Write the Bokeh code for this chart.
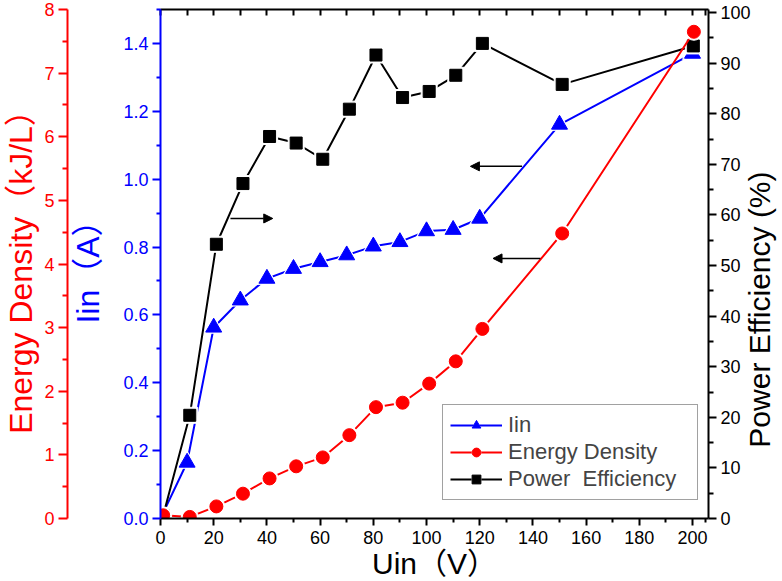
import math
from bokeh.plotting import figure
from bokeh.models import (Range1d, LinearAxis, FixedTicker, NumeralTickFormatter,
                          Legend, LegendItem, Arrow, NormalHead, ColumnDataSource)
from bokeh.embed import file_html
from bokeh.resources import INLINE

# ---- data ----
u_iin = [0, 10, 20, 30, 40, 50, 60, 70, 80, 90, 100, 110, 120, 150, 200]
iin = [0.0, 0.165, 0.563, 0.643, 0.707, 0.736, 0.756, 0.776, 0.802, 0.815, 0.847, 0.851, 0.884, 1.161, 1.370]
u_ed = [1, 11, 21, 31, 41, 51, 61, 71, 81, 91, 101, 111, 121, 151, 200.5]
energy_density = [0.05, 0.025, 0.19, 0.39, 0.63, 0.82, 0.96, 1.31, 1.75, 1.82, 2.12, 2.47, 2.98, 4.48, 7.65]
u_pe = [1, 11, 21, 31, 41, 51, 61, 71, 81, 91, 101, 111, 121, 151, 200.3]
power_eff = [0.6, 20.4, 54.2, 66.2, 75.5, 74.2, 71.0, 80.9, 91.6, 83.2, 84.4, 87.6, 93.9, 85.8, 93.4]

x_ticks = [0, 20, 40, 60, 80, 100, 120, 140, 160, 180, 200]
iin_ticks = [0.0, 0.2, 0.4, 0.6, 0.8, 1.0, 1.2, 1.4]
ed_ticks = [0, 1, 2, 3, 4, 5, 6, 7, 8]
pe_ticks = [0, 10, 20, 30, 40, 50, 60, 70, 80, 90, 100]

arrow_x_start = [26.3, 135.9, 142.8]
arrow_x_end = [42.2, 116.5, 125.0]
arrow_y = [59.3, 69.6, 51.4]

FONT = "Liberation Sans"
TFONT = "Liberation Sans, Noto Sans CJK SC"
BLUE, RED, BLACK = "#0000FF", "#FF0000", "#000000"
FW, FH = 548, 509

p = figure(frame_width=FW, frame_height=FH, x_range=Range1d(0, 206), y_range=Range1d(0, 1.5),
           output_backend="svg", toolbar_location=None,
           min_border_top=9, min_border_left=0, min_border_right=0, min_border_bottom=0)
p.extra_y_ranges = {"ed": Range1d(0, 8), "pe": Range1d(0, 100.6)}
p.outline_line_color = None
p.xgrid.visible = False
p.ygrid.visible = False
p.background_fill_color = "white"
p.border_fill_color = "white"


def minor(ticks):
    return [(a + b) / 2 for a, b in zip(ticks[:-1], ticks[1:])]


def style(ax, color, tick_out=8, minor_out=4):
    ax.axis_line_color = color
    ax.axis_line_width = 2
    ax.major_tick_line_color = color
    ax.minor_tick_line_color = color
    ax.major_tick_line_width = 2
    ax.minor_tick_line_width = 2
    ax.major_tick_out = tick_out
    ax.major_tick_in = 0
    ax.minor_tick_out = minor_out
    ax.minor_tick_in = 0
    ax.major_label_text_color = color
    ax.major_label_text_font = FONT
    ax.major_label_text_font_size = "18px"
    ax.axis_label_text_color = color
    ax.axis_label_text_font = TFONT
    ax.axis_label_text_font_style = "normal"


# bottom x axis
xa = p.xaxis[0]
xa.ticker = FixedTicker(ticks=x_ticks, minor_ticks=minor(x_ticks) + [205])
style(xa, BLACK, 7, 4)
xa.axis_label = "Uin（V）"
xa.axis_label_text_font_size = "30px"
xa.axis_label_standoff = 0
xa.major_label_standoff = 5

# top axis (ticks inward, no labels)
ta = LinearAxis(ticker=FixedTicker(ticks=x_ticks, minor_ticks=minor(x_ticks) + [205]))
style(ta, BLACK, 0, 0)
ta.major_tick_in = 6
ta.minor_tick_in = 6
ta.major_label_overrides = {t: "" for t in x_ticks}
ta.major_label_standoff = 0
ta.major_label_text_font_size = "1px"
p.add_layout(ta, "above")

# left inner blue axis (Iin)
ya = p.yaxis[0]
ya.ticker = FixedTicker(ticks=iin_ticks, minor_ticks=minor(iin_ticks) + [1.5])
ya.formatter = NumeralTickFormatter(format="0.0")
style(ya, BLUE, 8, 4)
ya.axis_label = "Iin（A）"
ya.axis_label_text_font_size = "32px"
ya.axis_label_standoff = 14
ya.major_label_standoff = 4

# left outer red axis (Energy density)
ra = LinearAxis(y_range_name="ed", ticker=FixedTicker(ticks=ed_ticks, minor_ticks=minor(ed_ticks)))
style(ra, RED, 9, 5)
ra.axis_label = "Energy Density（kJ/L）"
ra.axis_label_text_font_size = "32px"
ra.axis_label_standoff = 2
ra.major_label_standoff = 4
p.add_layout(ra, "left")

# right black axis (Power efficiency)
pa = LinearAxis(y_range_name="pe", ticker=FixedTicker(ticks=pe_ticks, minor_ticks=minor(pe_ticks)))
style(pa, BLACK, 8, 5)
pa.major_label_standoff = 4
p.add_layout(pa, "right")

# right axis title, reading bottom-to-top like the reference (anchored at its start)
title_anchor = 14
pt = LinearAxis(y_range_name="pe", ticker=FixedTicker(ticks=[title_anchor], minor_ticks=[]))
pt.axis_line_color = None
pt.major_tick_line_color = None
pt.minor_tick_line_color = None
pt.major_tick_out = 0
pt.major_tick_in = 0
pt.major_label_overrides = {title_anchor: "Power  Efficiency (%)"}
pt.major_label_orientation = math.pi / 2
pt.major_label_standoff = 6
pt.major_label_text_font = TFONT
pt.major_label_text_font_size = "30px"
pt.major_label_text_color = BLACK
p.add_layout(pt, "right")

# ---- series ----
bl = p.line(u_iin, iin, line_color=BLUE, line_width=2)
bh = p.scatter(u_iin, iin, marker="triangle", size=20, fill_color="white", line_color="white")
bm = p.scatter(u_iin, iin, marker="triangle", size=16, fill_color=BLUE, line_color=BLUE)

kl = p.line(u_pe, power_eff, line_color=BLACK, line_width=2, y_range_name="pe")
kh = p.scatter(u_pe, power_eff, marker="square", size=16, fill_color="white", line_color="white", y_range_name="pe")
km = p.scatter(u_pe, power_eff, marker="square", size=12, fill_color=BLACK, line_color=BLACK, y_range_name="pe")

rl = p.line(u_ed, energy_density, line_color=RED, line_width=2, y_range_name="ed")
rh = p.scatter(u_ed, energy_density, marker="circle", size=17, fill_color="white", line_color="white", y_range_name="ed")
rm = p.scatter(u_ed, energy_density, marker="circle", size=13, fill_color=RED, line_color=RED, y_range_name="ed")

# arrows
asrc = ColumnDataSource(dict(x0=arrow_x_start, x1=arrow_x_end, y=arrow_y))
p.add_layout(Arrow(end=NormalHead(size=9, fill_color=BLACK, line_color=BLACK),
                   x_start="x0", y_start="y", x_end="x1", y_end="y", source=asrc,
                   y_range_name="pe", line_color=BLACK, line_width=1.5))

legend = Legend(items=[
    LegendItem(label="Iin", renderers=[bl, bh, bm]),
    LegendItem(label="Energy Density", renderers=[rl, rh, rm]),
    LegendItem(label="Power  Efficiency", renderers=[kl, kh, km]),
], location=(282, 18))
legend.label_text_font = FONT
legend.label_text_font_size = "22px"
legend.glyph_width = 52
legend.glyph_height = 22
legend.label_height = 22
legend.label_width = 182
legend.label_standoff = 6
legend.spacing = 1
legend.padding = 7
legend.margin = 0
legend.border_line_color = "#444444"
legend.border_line_width = 1
legend.background_fill_color = "white"
legend.background_fill_alpha = 1
p.add_layout(legend, "center")

open("out.html", "w").write(file_html(p, INLINE))
